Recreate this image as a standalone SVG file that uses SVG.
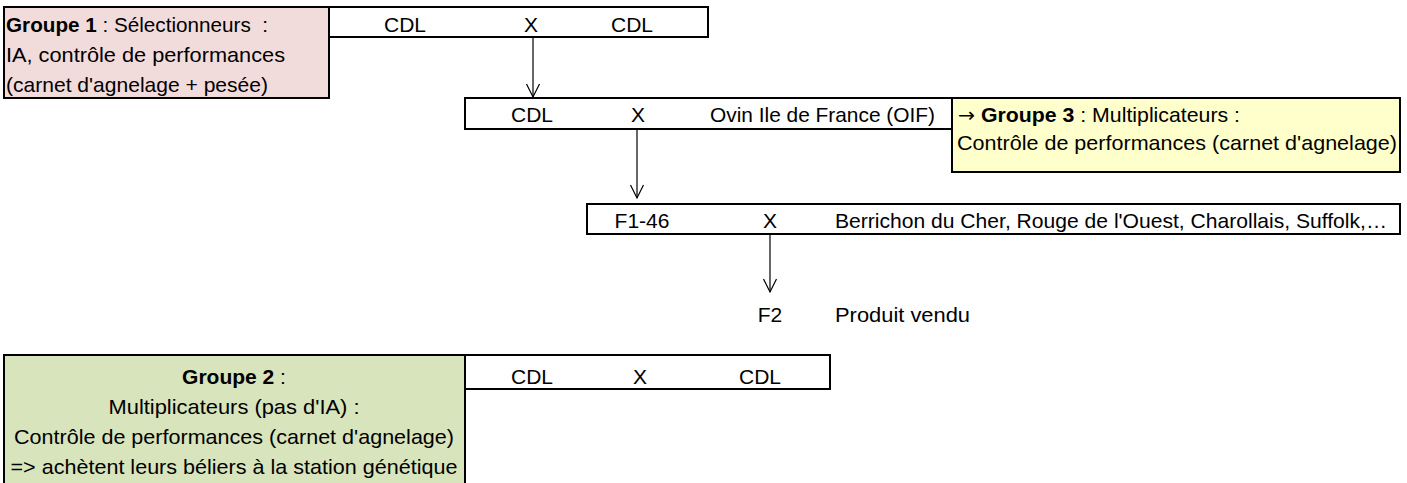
<svg xmlns="http://www.w3.org/2000/svg" width="1407" height="483" viewBox="0 0 1407 483">
<defs>
<marker id="vhead" markerUnits="userSpaceOnUse" markerWidth="20" markerHeight="20" refX="0" refY="0" orient="auto" overflow="visible">
<path d="M-13,-6.5 L0,0 L-13,6.5" fill="none" stroke="#000" stroke-width="1.2"/>
</marker>
<style>
text{font-family:"Liberation Sans",Arial,sans-serif;font-size:21px;fill:#000;white-space:pre}
.b{font-weight:bold}
.arr{font-family:"DejaVu Sans",sans-serif;font-size:20px}
.box{stroke:#000;stroke-width:2;fill:#fff}
.pink{fill:#f2dcdb}
.yellow{fill:#ffffcc}
.green{fill:#d8e4bc}
.c{text-anchor:middle}
.conn{stroke:#000;stroke-width:1.2;fill:none;marker-end:url(#vhead)}
</style>
</defs>
<rect width="1407" height="483" fill="#fff"/>

<g id="groupe1">
<rect class="box pink" x="4" y="7" width="325" height="91"/>
<text x="6" y="32" textLength="262" lengthAdjust="spacingAndGlyphs"><tspan class="b">Groupe 1</tspan> : Sélectionneurs  :</text>
<text x="6" y="62" textLength="279" lengthAdjust="spacingAndGlyphs">IA, contrôle de performances</text>
<text x="6" y="92" textLength="262" lengthAdjust="spacingAndGlyphs">(carnet d'agnelage + pesée)</text>
</g>

<g id="croisement1">
<rect class="box" x="329" y="7" width="379" height="30"/>
<text class="c" x="405" y="32">CDL</text>
<text class="c" x="531" y="32">X</text>
<text class="c" x="632" y="32">CDL</text>
</g>

<g id="croisement2">
<rect class="box" x="465" y="98" width="487" height="31"/>
<text class="c" x="532" y="122">CDL</text>
<text class="c" x="638" y="122">X</text>
<text x="710" y="122" textLength="225" lengthAdjust="spacingAndGlyphs">Ovin Ile de France (OIF)</text>
</g>

<g id="groupe3">
<rect class="box yellow" x="952" y="98" width="448" height="74"/>
<text x="958" y="122" textLength="282" lengthAdjust="spacingAndGlyphs"><tspan class="arr">→</tspan> <tspan class="b">Groupe 3</tspan> : Multiplicateurs :</text>
<text x="957" y="150" textLength="440" lengthAdjust="spacingAndGlyphs">Contrôle de performances (carnet d'agnelage)</text>
</g>

<g id="croisement3">
<rect class="box" x="587" y="204" width="813" height="30"/>
<text class="c" x="642" y="228">F1-46</text>
<text class="c" x="770" y="228">X</text>
<text x="835" y="228" textLength="552" lengthAdjust="spacingAndGlyphs">Berrichon du Cher, Rouge de l'Ouest, Charollais, Suffolk,…</text>
</g>

<g id="f2">
<text class="c" x="770" y="322">F2</text>
<text x="835" y="322" textLength="135" lengthAdjust="spacingAndGlyphs">Produit vendu</text>
</g>

<g id="groupe2">
<rect class="box green" x="4" y="355" width="461" height="140"/>
<text class="c" x="234" y="384"><tspan class="b">Groupe 2</tspan> :</text>
<text class="c" x="234" y="414" textLength="251" lengthAdjust="spacingAndGlyphs">Multiplicateurs (pas d'IA) :</text>
<text class="c" x="234" y="444" textLength="440" lengthAdjust="spacingAndGlyphs">Contrôle de performances (carnet d'agnelage)</text>
<text class="c" x="234" y="474" textLength="447" lengthAdjust="spacingAndGlyphs">=&gt; achètent leurs béliers à la station génétique</text>
</g>

<g id="croisement4">
<rect class="box" x="465" y="355" width="365" height="34"/>
<text class="c" x="532" y="384">CDL</text>
<text class="c" x="640" y="384">X</text>
<text class="c" x="760" y="384">CDL</text>
</g>

<g id="connecteurs">
<line class="conn" x1="533" y1="37" x2="533" y2="97"/>
<line class="conn" x1="637" y1="129" x2="637" y2="198"/>
<line class="conn" x1="770" y1="234" x2="770" y2="292"/>
</g>
</svg>
